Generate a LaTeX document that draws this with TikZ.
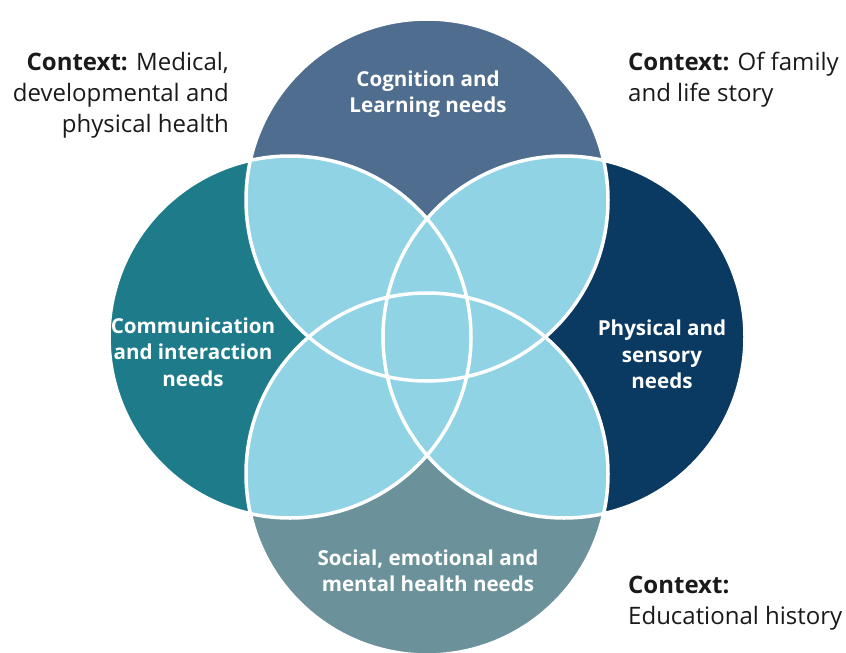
\documentclass[tikz,border=0pt]{standalone}
\usepackage{fontspec}
\setmainfont{Open Sans}
\definecolor{cTop}{HTML}{4F6D8E}
\definecolor{cLeft}{HTML}{1E7C8A}
\definecolor{cRight}{HTML}{0A3A61}
\definecolor{cBottom}{HTML}{6B929A}
\definecolor{cOver}{HTML}{8FD3E4}
\definecolor{cText}{HTML}{1A1A1A}
\begin{document}
\begin{tikzpicture}[x=1pt,y=-1pt,
  circtext/.style={text=white,font=\fontsize{20.6}{26.5}\selectfont\bfseries,align=center,inner sep=0pt},
  ctxtext/.style={text=cText,font=\fontsize{24}{31}\selectfont,inner sep=0pt},
  ring/.style={draw=white,line width=3.5pt}]
\useasboundingbox (0,0) rectangle (846,653);
\fill[white] (0,0) rectangle (846,653);
\def\R{181}
\coordinate (T) at (427,200);
\coordinate (L) at (290,337);
\coordinate (Rt) at (564,337);
\coordinate (B) at (427,474);
\begin{scope}
\clip (0,0) rectangle (846,653);
\fill[cTop] (T) circle (\R);
\fill[cLeft] (L) circle (\R);
\fill[cRight] (Rt) circle (\R);
\fill[cBottom] (B) circle (\R);
\foreach \a/\b in {T/L,T/Rt,T/B,L/Rt,L/B,Rt/B}{
  \begin{scope}
    \clip (\a) circle (\R);
    \fill[cOver] (\b) circle (\R);
  \end{scope}
}
\draw[ring] (T) circle (\R);
\draw[ring] (L) circle (\R);
\draw[ring] (Rt) circle (\R);
\draw[ring] (B) circle (\R);
\end{scope}
\node[circtext] (tT) at (428,94) {Cognition and\\Learning needs};
\node[circtext] (tL) at (193,352) {Communication\\and interaction\\needs};
\node[circtext] (tR) at (662,354.5) {Physical and\\sensory\\needs};
\node[circtext] (tB) at (428,571) {Social, emotional and\\mental health needs};
\node[ctxtext,align=right,anchor=north east] (c1) at (229,52) {\textbf{Context:} Medical,\\developmental and\\physical health};
\node[ctxtext,align=left,anchor=north west] (c2) at (628,52) {\textbf{Context:} Of family\\and life story};
\node[ctxtext,align=left,anchor=north west] (c3) at (628,576) {\textbf{Context:}\\Educational history};
\end{tikzpicture}
\end{document}
